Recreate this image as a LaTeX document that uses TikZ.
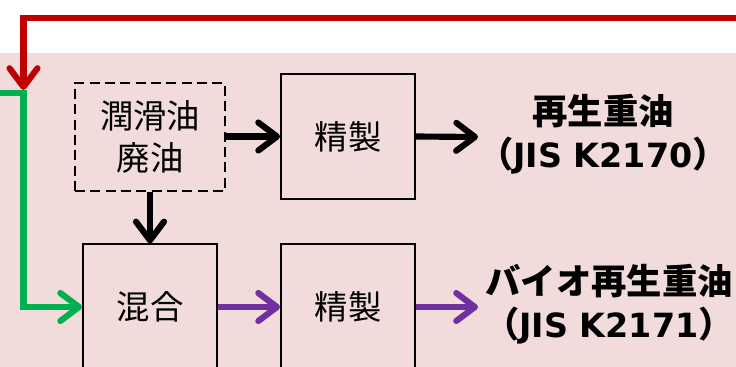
\documentclass[tikz,border=0pt]{standalone}
\usepackage{fontspec}
\setmainfont{Noto Sans CJK JP}
\newfontfamily\latinb{DejaVu Sans}
\usetikzlibrary{arrows.meta}
\definecolor{bgpink}{HTML}{F2DCDB}
\definecolor{redline}{HTML}{C00000}
\definecolor{greenline}{HTML}{00B050}
\definecolor{purpleline}{HTML}{7030A0}
\newcommand{\jis}[1]{（{\latinb\bfseries\fontsize{25}{31}\selectfont JIS K#1}）}
\tikzset{
  flow/.style={line width=4.6pt,-{Straight Barb[length=14pt,width=21pt,round]}},
  boxstyle/.style={draw=black,line width=1.4pt,minimum width=100.5pt,minimum height=94pt,inner sep=0pt,
    font=\fontsize{25}{31}\selectfont},
  dashbox/.style={draw=black,line width=1.4pt,dash pattern=on 7.5pt off 4pt,minimum width=112.5pt,minimum height=81pt,
    inner sep=0pt,align=center,font=\fontsize{25}{31}\selectfont},
  outtext/.style={align=center,inner sep=0pt,font=\fontsize{26.5}{32}\selectfont\bfseries}
}
\begin{document}
\begin{tikzpicture}[x=0.75pt,y=-0.75pt]
\useasboundingbox (0,0) rectangle (736,367);
\fill[bgpink] (0,53) rectangle (736,367);
\fill[white] (0,0) rectangle (736,53);
\node[dashbox] (waste) at (150,137) {潤滑油\\廃油};
\node[boxstyle] (ref1) at (348,136.5) {精製};
\node[boxstyle] (mix) at (150,307) {混合};
\node[boxstyle] (ref2) at (348,307) {精製};
\node[outtext] (out1) at (603,134) {再生重油\\\jis{2170}};
\node[outtext] (out2) at (609,304) {バイオ再生重油\\\jis{2171}};
\coordinate (e1) at (478,137);
\coordinate (e2) at (478,307);
\coordinate (gstart) at (-5,93);
\coordinate (gcorner) at (23.5,93);
\coordinate (rstart) at (741,18);
\coordinate (rtip) at (23.5,90);
\draw[flow] (waste.east |- ref1) -- (ref1.west);
\draw[flow] (ref1.east) -- (e1);
\draw[flow] (waste.south) -- (mix.north);
\draw[flow,purpleline] (mix.east) -- (ref2.west);
\draw[flow,purpleline] (ref2.east) -- (e2);
\draw[flow,greenline] (gstart) -- (gcorner) |- (mix.west);
\draw[flow,redline] (rstart) -| (rtip);
\end{tikzpicture}
\end{document}
